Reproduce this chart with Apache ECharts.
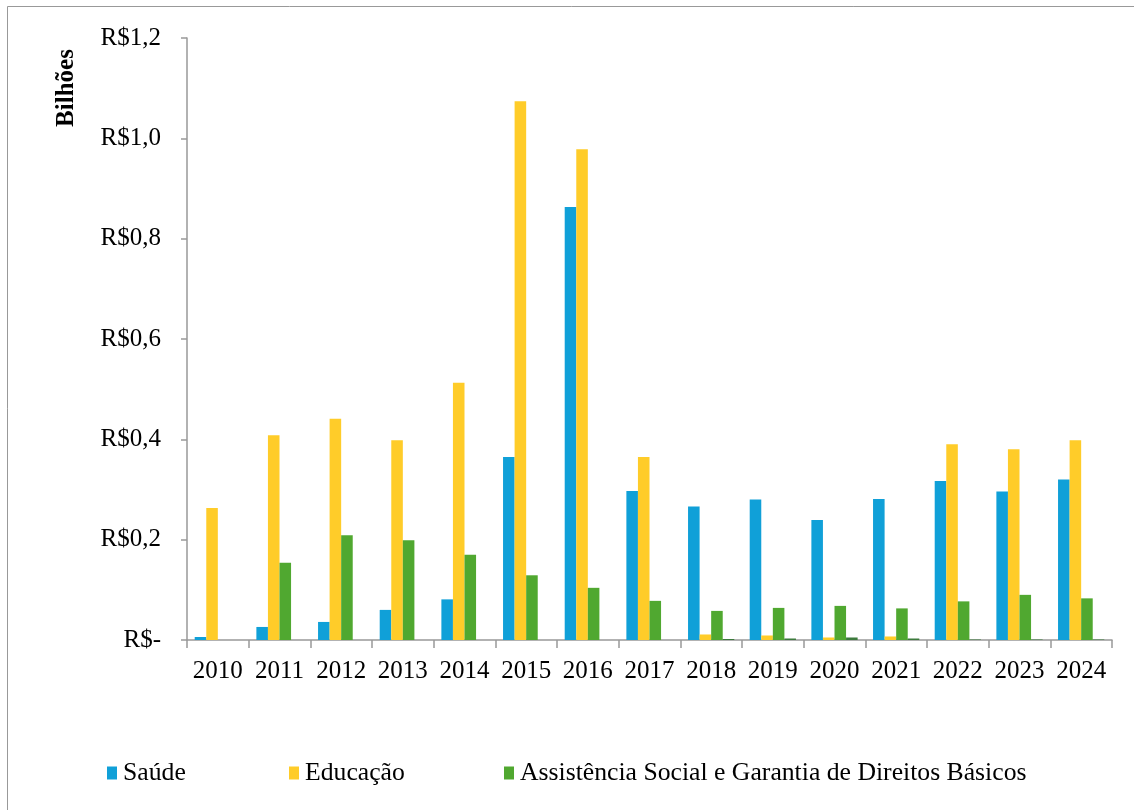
<!DOCTYPE html>
<html>
<head>
<meta charset="utf-8">
<script src="https://cdn.jsdelivr.net/npm/echarts@6/dist/echarts.min.js"></script>
<style>
html,body{margin:0;padding:0;background:#fff;}
#c{width:1134px;height:810px;}
</style>
</head>
<body>
<div id="c"></div>
<script>
var years = ['2010','2011','2012','2013','2014','2015','2016','2017','2018','2019','2020','2021','2022','2023','2024'];
var saude = [0.006,0.026,0.036,0.060,0.081,0.365,0.863,0.297,0.266,0.280,0.239,0.281,0.317,0.296,0.320];
var educacao = [0.263,0.408,0.441,0.398,0.513,1.074,0.978,0.365,0.011,0.009,0.005,0.007,0.390,0.380,0.398];
var assistencia = [0,0.154,0.209,0.199,0.170,0.129,0.104,0.078,0.058,0.064,0.068,0.063,0.077,0.090,0.083];
var outros = [0,0,0,0,0,0,0,0,0.002,0.003,0.005,0.003,0.001,0.001,0.001];
var seriesNames = ['Saúde','Educação','Assistência Social e Garantia de Direitos Básicos'];
var yTicks = [0,0.2,0.4,0.6,0.8,1.0,1.2];

var FONT = 'Liberation Serif';
var legendLefts = [107,289,504];
var chart = echarts.init(document.getElementById('c'));
function legendAt(name, left){
  return {data:[name], left:left, top:760, padding:0, icon:'rect', itemWidth:10, itemHeight:13, itemGap:0,
    textStyle:{fontFamily:FONT,fontSize:25.7,color:'#000',padding:[0,0,0,1]}};
}
chart.setOption({
  backgroundColor:'#fff',
  animation:false,
  textStyle:{fontFamily:FONT},
  graphic:[
    {type:'rect',shape:{x:7.5,y:6.5,width:1140,height:820},style:{fill:'none',stroke:'#999',lineWidth:1},silent:true},
    {type:'text',x:67,y:88,rotation:Math.PI/2,silent:true,
      style:{text:'Bilhões',fontFamily:FONT,fontSize:25,fontWeight:'bold',fill:'#000',align:'center',verticalAlign:'middle'}}
  ],
  legend:[legendAt(seriesNames[0],legendLefts[0]),legendAt(seriesNames[1],legendLefts[1]),legendAt(seriesNames[2],legendLefts[2])],
  grid:{left:187,right:22,top:38,bottom:170,containLabel:false},
  xAxis:{type:'category',data:years,
    axisLine:{lineStyle:{color:'#999',width:1.5}},
    axisTick:{show:true,interval:0,length:8,lineStyle:{color:'#999',width:1.5}},
    axisLabel:{interval:0,color:'#000',fontFamily:FONT,fontSize:25,margin:19}},
  yAxis:{type:'value',min:0,max:1.2,interval:0.2,
    splitLine:{show:false},
    axisLine:{show:true,lineStyle:{color:'#999',width:1.5}},
    axisTick:{show:true,length:6,inside:false,lineStyle:{color:'#999',width:1.5}},
    axisLabel:{color:'#000',fontFamily:FONT,fontSize:25,margin:26,
      formatter:function(v){return v===0?'R$-':'R$'+v.toFixed(1).replace('.',',');}}},
  series:[
    {name:seriesNames[0],type:'bar',data:saude,barGap:'0%',barCategoryGap:'25%',itemStyle:{color:'#10A0D8'}},
    {name:seriesNames[1],type:'bar',data:educacao,itemStyle:{color:'#FFCC29'}},
    {name:seriesNames[2],type:'bar',data:assistencia,itemStyle:{color:'#50A830'}},
    {name:'Outros',type:'bar',data:outros,itemStyle:{color:'#3C7A3C'}}
  ]
});
</script>
</body>
</html>
